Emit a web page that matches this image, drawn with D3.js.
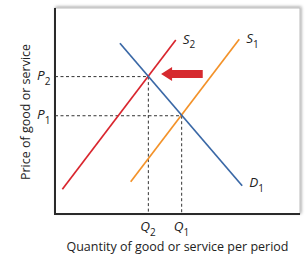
<!DOCTYPE html>
<html>
<head>
<meta charset="utf-8">
<script src="https://cdn.jsdelivr.net/npm/d3@7"></script>
<style>
  body { margin: 0; background: #fff; }
  text { font-family: "Open Sans", sans-serif; fill: #222; }
</style>
</head>
<body>
<svg id="chart" width="308" height="258"></svg>
<script>
// curves in data units (0..10 on both axes)
var curveNames = ["S2", "S1", "D1"];
var curveColors = ["#d9262e", "#f39229", "#3a68a6"];
var curvePoints = [
  [[0.30, 1.20], [4.93, 8.45]],
  [[3.09, 1.57], [7.52, 8.48]],
  [[2.65, 8.29], [7.64, 1.37]]
];
var priceLevels = [6.67, 4.77];
var priceLabels = ["2", "1"];
var quantityLevels = [3.81, 5.17];
var quantityLabels = ["2", "1"];
var shiftArrow = [[6.03, 6.8], [4.33, 6.8]];

var svg = d3.select("#chart");
var plotL = 55, plotR = 300, plotT = 8, plotB = 214;

var x = d3.scaleLinear().domain([0, 10]).range([plotL, plotR]);
var y = d3.scaleLinear().domain([0, 10]).range([plotB, plotT]);

// frame with a soft shadow
var defs = svg.append("defs");
var f = defs.append("filter").attr("id", "shadow").attr("x", "-10%").attr("y", "-10%").attr("width", "120%").attr("height", "120%");
f.append("feDropShadow").attr("dx", 1).attr("dy", -1).attr("stdDeviation", 1.8).attr("flood-color", "#000").attr("flood-opacity", 0.35);

svg.append("rect")
  .attr("x", plotL).attr("y", plotT)
  .attr("width", plotR - plotL).attr("height", plotB - plotT)
  .attr("fill", "#fff")
  .attr("stroke", "#bbb")
  .attr("filter", "url(#shadow)");

// axes
svg.append("path")
  .attr("d", `M${plotL},${plotT}V${plotB}H${plotR}`)
  .attr("fill", "none")
  .attr("stroke", "#2a2a2a")
  .attr("stroke-width", 2);

// dashed guides
var g = svg.append("g").attr("stroke", "#333").attr("stroke-width", 1).attr("stroke-dasharray", "3,2.5");
priceLevels.forEach((p, i) => {
  g.append("line").attr("x1", plotL).attr("x2", x(quantityLevels[i])).attr("y1", y(p)).attr("y2", y(p));
  g.append("line").attr("x1", x(quantityLevels[i])).attr("x2", x(quantityLevels[i])).attr("y1", y(p)).attr("y2", plotB);
});

// curves
var line = d3.line().x(d => x(d[0])).y(d => y(d[1]));
svg.selectAll(".curve")
  .data(curvePoints)
  .enter()
  .append("path")
  .attr("class", "curve")
  .attr("d", line)
  .attr("fill", "none")
  .attr("stroke", (d, i) => curveColors[i])
  .attr("stroke-width", 1.7);

// shift arrow
var ax0 = x(shiftArrow[0][0]), ax1 = x(shiftArrow[1][0]), ay = y(shiftArrow[0][1]);
svg.append("path")
  .attr("d", `M${ax0},${ay - 4}H${ax1 + 11}V${ay - 7}L${ax1},${ay}L${ax1 + 11},${ay + 7}V${ay + 4}H${ax0}Z`)
  .attr("fill", "#d62a2f");

// labels with subscripts
function label(px, py, main, sub) {
  var t = svg.append("text").attr("x", px).attr("y", py).attr("font-size", 13.5);
  t.append("tspan").attr("font-style", "italic").text(main);
  t.append("tspan").attr("font-size", 10).attr("dy", 4.5).text(sub);
}

curveNames.forEach((n, i) => {
  var end = curvePoints[i][1];
  var dy = n[0] === "D" ? 1.5 : 4;
  label(x(end[0]) + 7, y(end[1]) + dy, n[0], n[1]);
});
priceLevels.forEach((p, i) => label(plotL - 18, y(p) + 3.5, "P", priceLabels[i]));
quantityLevels.forEach((q, i) => label(x(q) - 8, plotB + 17, "Q", quantityLabels[i]));

svg.append("text")
  .attr("x", (plotL + plotR) / 2).attr("y", 251)
  .attr("text-anchor", "middle").attr("font-size", 12.5)
  .text("Quantity of good or service per period");

svg.append("text")
  .attr("transform", `translate(30,${(plotT + plotB) / 2 + 1}) rotate(-90)`)
  .attr("text-anchor", "middle").attr("font-size", 12.5)
  .text("Price of good or service");
</script>
</body>
</html>
